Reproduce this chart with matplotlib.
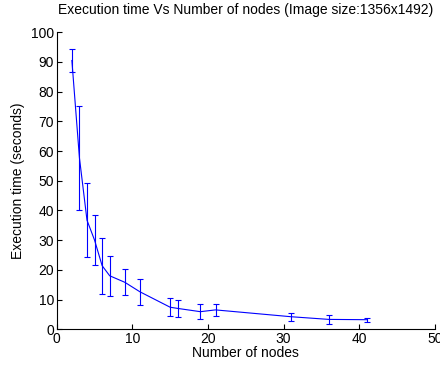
import matplotlib
matplotlib.use('Agg')
import matplotlib.pyplot as plt

# number of nodes and the measured execution times (seconds)
nodes = [2, 3, 4, 5, 6, 7, 9, 11, 15, 16, 19, 21, 31, 36, 41]
mean_time = [90.5, 57.7, 36.7, 30.0, 21.4, 18.0, 15.8, 12.6, 7.4, 7.0, 5.9, 6.5, 4.2, 3.3, 3.2]
err_time = [4.0, 17.6, 12.5, 8.3, 9.4, 6.7, 4.4, 4.3, 3.0, 2.9, 2.5, 2.1, 1.35, 1.5, 0.7]

x_ticks = [0, 10, 20, 30, 40, 50]
y_ticks = list(range(0, 101, 10))

plt.rcParams['font.family'] = ['Liberation Sans', 'DejaVu Sans']
plt.rcParams['font.size'] = 10

fig = plt.figure(figsize=(4.4, 3.67), dpi=100)
ax = fig.add_axes([0.129, 0.103, 0.859, 0.809])

ax.errorbar(nodes, mean_time, yerr=err_time, color='#0000ff', linewidth=0.8,
            elinewidth=0.8, capsize=2.4, capthick=0.8)

ax.set_xlim(0, 50)
ax.set_ylim(0, 100)
ax.set_xticks(x_ticks)
ax.set_yticks(y_ticks)
ax.tick_params(direction='in', length=3.5, width=0.8, top=False, right=False, pad=2)
ax.spines['top'].set_visible(False)
ax.spines['right'].set_visible(False)
for s in ['left', 'bottom']:
    ax.spines[s].set_linewidth(0.8)

ax.set_title('Execution time Vs Number of nodes (Image size:1356x1492)', fontsize=10, pad=13)
ax.set_xlabel('Number of nodes', labelpad=0)
ax.set_ylabel('Execution time (seconds)', labelpad=4)

fig.savefig('out.png', dpi=100)
